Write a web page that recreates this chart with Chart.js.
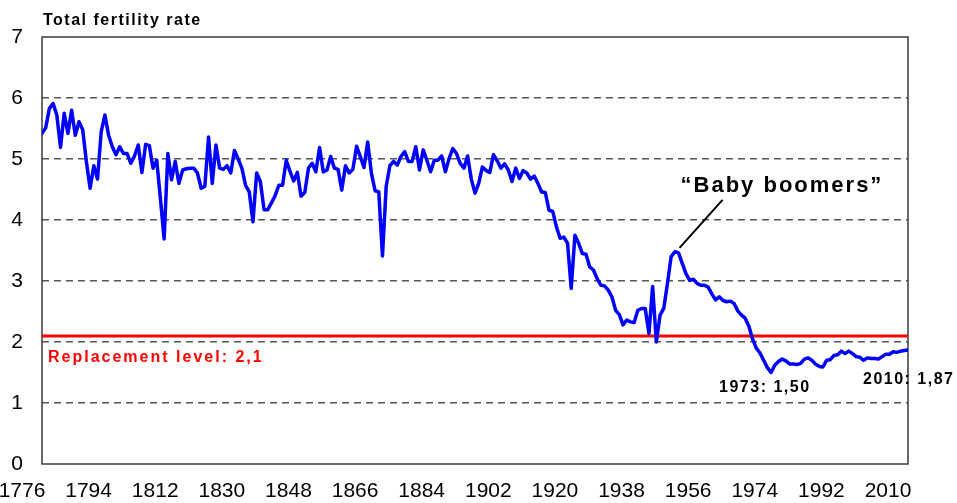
<!DOCTYPE html>
<html>
<head>
<meta charset="utf-8">
<style>
  html, body { margin: 0; padding: 0; background: #fff; }
  #wrap { width: 957px; height: 503px; }
</style>
</head>
<body>
<div id="wrap"><canvas id="chart"></canvas></div>
<script src="https://cdn.jsdelivr.net/npm/chart.js@4.4.1/dist/chart.umd.min.js"></script>
<script>
// Total fertility rate, one value per year from 1776 to 2010
const startYear = 1776;
const fertility = [
  5.42, 5.51, 5.83, 5.91,
  5.72, 5.19, 5.75, 5.42, 5.80, 5.39, 5.61, 5.48, 4.95, 4.52,
  4.89, 4.67, 5.45, 5.72, 5.39, 5.20, 5.07, 5.20, 5.09, 5.09,
  4.93, 5.05, 5.23, 4.78, 5.24, 5.22, 4.85, 4.98, 4.35, 3.69,
  5.09, 4.66, 4.96, 4.60, 4.82, 4.84, 4.85, 4.85, 4.77, 4.52,
  4.55, 5.36, 4.60, 5.23, 4.85, 4.83, 4.89, 4.77, 5.14, 5.00,
  4.85, 4.57, 4.46, 3.97, 4.77, 4.63, 4.17, 4.17, 4.28, 4.40,
  4.57, 4.57, 4.98, 4.80, 4.64, 4.78, 4.39, 4.45, 4.85, 4.93,
  4.79, 5.19, 4.79, 4.82, 5.04, 4.85, 4.83, 4.49, 4.89, 4.77,
  4.83, 5.21, 5.04, 4.86, 5.28, 4.77, 4.48, 4.46, 3.41, 4.55,
  4.89, 4.96, 4.90, 5.04, 5.12, 4.96, 4.96, 5.20, 4.82, 5.15,
  4.98, 4.79, 4.98, 4.98, 5.05, 4.79, 5.01, 5.17, 5.09, 4.93,
  4.85, 5.05, 4.67, 4.44, 4.60, 4.87, 4.81, 4.78, 5.07, 4.97,
  4.85, 4.92, 4.82, 4.63, 4.85, 4.68, 4.81, 4.77, 4.67, 4.72,
  4.60, 4.46, 4.45, 4.16, 4.14, 3.89, 3.70, 3.72, 3.62, 2.88,
  3.75, 3.62, 3.45, 3.44, 3.23, 3.18, 3.04, 2.93, 2.92, 2.85,
  2.74, 2.52, 2.45, 2.28, 2.36, 2.33, 2.32, 2.52, 2.55, 2.55,
  2.14, 2.91, 2.00, 2.44, 2.55, 2.96, 3.40, 3.48, 3.46, 3.29,
  3.12, 3.01, 3.03, 2.96, 2.93, 2.93, 2.90, 2.79, 2.69, 2.74,
  2.68, 2.66, 2.67, 2.63, 2.51, 2.44, 2.39, 2.26, 2.05, 1.90,
  1.82, 1.70, 1.58, 1.50, 1.62, 1.68, 1.72, 1.69, 1.64, 1.64,
  1.63, 1.65, 1.72, 1.74, 1.70, 1.64, 1.60, 1.59, 1.70, 1.71,
  1.78, 1.79, 1.85, 1.81, 1.85, 1.81, 1.76, 1.75, 1.70, 1.74,
  1.73, 1.73, 1.72, 1.76, 1.80, 1.80, 1.84, 1.83, 1.85, 1.86,
  1.87
];
const years = fertility.map((_, i) => startYear + i);

const xTicks = [1776, 1794, 1812, 1830, 1848, 1866, 1884, 1902, 1920, 1938, 1956, 1974, 1992, 2010];
const yTicks = [0, 1, 2, 3, 4, 5, 6, 7];

const replacementLevel = 2.1;
const replacementYears = [1776, 2010];
const replacementLabel = 'Replacement level: 2,1';
const axisTitle = 'Total fertility rate';

const boomYear = 1948;
const boomValue = 3.46;
const boomLabel = '\u201cBaby boomers\u201d';
const lowYear = 1973;
const lowLabel = '1973: 1,50';
const lastLabel = '2010: 1,87';

const FONT = '"Liberation Sans", Arial, sans-serif';

const overlay = {
  id: 'overlay',
  beforeDatasetsDraw(chart) {
    const { ctx, chartArea: a } = chart;
    ctx.save();
    ctx.strokeStyle = '#3a3a3a';
    ctx.lineWidth = 1.5;
    ctx.strokeRect(a.left, a.top, a.right - a.left, a.bottom - a.top);
    ctx.restore();
  },
  afterDraw(chart) {
    const { ctx, chartArea: a, scales: { x, y } } = chart;
    ctx.save();
    ctx.textAlign = 'left';
    ctx.textBaseline = 'alphabetic';

    ctx.fillStyle = '#000';
    ctx.font = `bold 16px ${FONT}`;
    ctx.letterSpacing = '1.5px';
    ctx.fillText(axisTitle, a.left + 1, a.top - 12);

    ctx.fillStyle = '#ff0000';
    ctx.letterSpacing = '2px';
    ctx.fillText(replacementLabel, a.left + 6, y.getPixelForValue(replacementLevel) + 26);

    const bx = x.getPixelForValue(boomYear);
    const by = y.getPixelForValue(boomValue);
    ctx.strokeStyle = '#000';
    ctx.lineWidth = 2;
    ctx.beginPath();
    ctx.moveTo(bx + 1, by - 5);
    ctx.lineTo(bx + 44, by - 53);
    ctx.stroke();

    ctx.fillStyle = '#000';
    ctx.font = `bold 22px ${FONT}`;
    ctx.letterSpacing = '2px';
    ctx.fillText(boomLabel, bx + 2, by - 61);

    ctx.font = `bold 16px ${FONT}`;
    ctx.letterSpacing = '1.5px';
    const lowVal = fertility[years.indexOf(lowYear)];
    ctx.fillText(lowLabel, x.getPixelForValue(lowYear) - 52, y.getPixelForValue(lowVal) + 19);
    const lastYear = years[years.length - 1];
    const lastVal = fertility[fertility.length - 1];
    ctx.fillText(lastLabel, x.getPixelForValue(lastYear) - 45, y.getPixelForValue(lastVal) + 34);
    ctx.restore();
  }
};

new Chart(document.getElementById('chart'), {
  type: 'line',
  data: {
    datasets: [
      {
        label: 'Total fertility rate',
        data: years.map((yr, i) => ({ x: yr, y: fertility[i] })),
        borderColor: '#0000ff',
        borderWidth: 3.5,
        borderJoinStyle: 'round',
        borderCapStyle: 'round',
        pointRadius: 0,
        tension: 0,
      },
      {
        label: 'Replacement level',
        data: replacementYears.map((yr) => ({ x: yr, y: replacementLevel })),
        borderColor: '#ff0000',
        borderWidth: 3,
        pointRadius: 0,
      },
    ],
  },
  options: {
    responsive: true,
    maintainAspectRatio: false,
    animation: false,
    events: [],
    layout: { padding: { top: 37, right: 49, left: 0, bottom: 0 } },
    plugins: {
      legend: { display: false },
      tooltip: { enabled: false },
    },
    scales: {
      x: {
        type: 'linear',
        min: 1776,
        max: 2010,
        afterBuildTicks: (axis) => { axis.ticks = xTicks.map((v) => ({ value: v })); },
        afterFit: (axis) => { axis.height = 39; },
        grid: { display: false },
        border: { display: false },
        ticks: {
          autoSkip: false,
          maxRotation: 0,
          padding: 7,
          labelOffset: -20,
          color: '#000',
          font: { size: 21, family: FONT },
          callback: (v) => String(v),
        },
      },
      y: {
        min: 0,
        max: 7,
        afterBuildTicks: (axis) => { axis.ticks = yTicks.map((v) => ({ value: v })); },
        afterFit: (axis) => { axis.width = 42; },
        grid: {
          drawTicks: false,
          lineWidth: 1.5,
          color: (c) => (c.tick && c.tick.value > 0 && c.tick.value < 7 ? '#555555' : 'rgba(0,0,0,0)'),
        },
        border: { display: false, dash: [7, 5] },
        ticks: {
          padding: 19,
          color: '#000',
          font: { size: 21, family: FONT },
          callback: (v) => String(v),
        },
      },
    },
  },
  plugins: [overlay],
});
</script>
</body>
</html>
